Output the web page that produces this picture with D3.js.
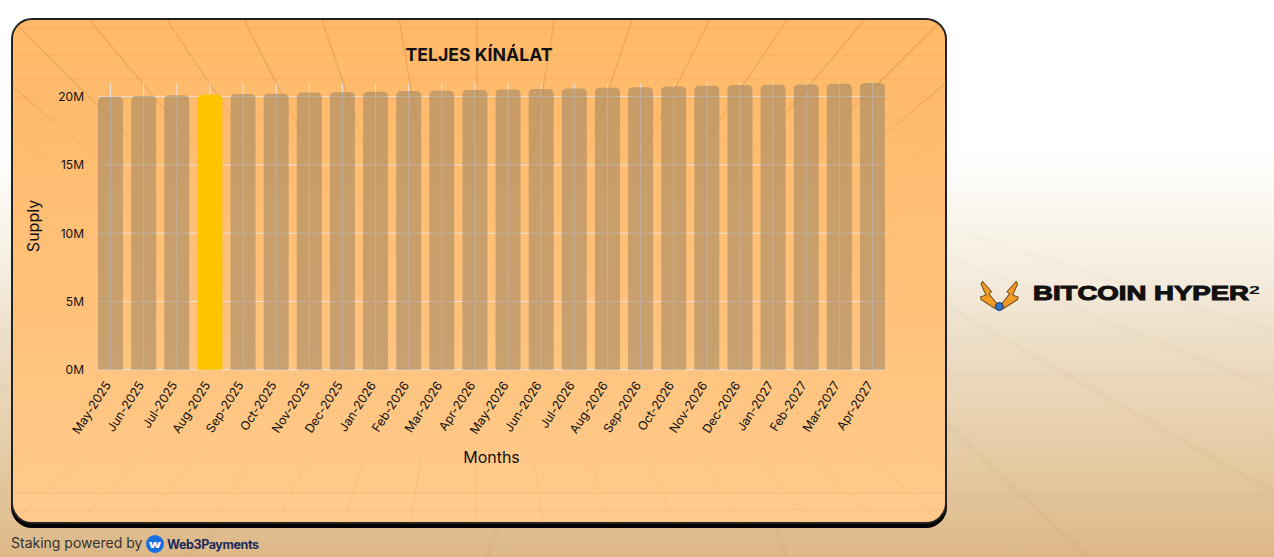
<!DOCTYPE html>
<html><head><meta charset="utf-8">
<script src="https://cdn.jsdelivr.net/npm/d3@7"></script>
<style>
html,body{margin:0;padding:0;width:1274px;height:557px;overflow:hidden;background:#fff}
svg{display:block;font-family:Inter,"Noto Sans",sans-serif}
</style></head><body>
<svg id="c" width="1274" height="557"></svg>
<script>
const months=["May-2025","Jun-2025","Jul-2025","Aug-2025","Sep-2025","Oct-2025","Nov-2025","Dec-2025","Jan-2026","Feb-2026","Mar-2026","Apr-2026","May-2026","Jun-2026","Jul-2026","Aug-2026","Sep-2026","Oct-2026","Nov-2026","Dec-2026","Jan-2027","Feb-2027","Mar-2027","Apr-2027"];
const supply=[20.0,20.05,20.1,20.15,20.2,20.22,20.3,20.33,20.37,20.42,20.44,20.49,20.52,20.57,20.6,20.66,20.7,20.74,20.8,20.85,20.87,20.9,20.95,21.0];
const yTicks=[0,5,10,15,20];
const highlightMonth="Aug-2025";
const titleText="TELJES KÍNÁLAT", yTitle="Supply", xTitle="Months";

const svg=d3.select("#c");
const defs=svg.append("defs");
function grad(id,stops){const g=defs.append("linearGradient").attr("id",id).attr("x1",0).attr("x2",0).attr("y1",0).attr("y2",1);
  stops.forEach(s=>g.append("stop").attr("offset",s[0]).attr("stop-color",s[1]));}
grad("page",[[0,"#ffffff"],[0.27,"#ffffff"],[0.36,"#fbf8f1"],[0.5,"#f5ecde"],[0.59,"#eee0cb"],[0.81,"#e6cca6"],[1,"#ddb887"]]);
grad("panel",[[0,"#ffb968"],[0.5,"#ffc078"],[1,"#ffcb8c"]]);
grad("fadeTop",[[0,"#fff"],[0.45,"#fff"],[1,"#000"]]);
grad("fadeBot",[[0,"#000"],[0.55,"#fff"],[1,"#fff"]]);
grad("fadePage",[[0,"#000"],[0.45,"#888"],[1,"#fff"]]);
function mask(id,gid,y,h){defs.append("mask").attr("id",id).attr("maskUnits","userSpaceOnUse").attr("x",0).attr("y",0).attr("width",1274).attr("height",557)
  .append("rect").attr("x",0).attr("y",y).attr("width",1274).attr("height",h).attr("fill",`url(#${gid})`);}
mask("mTop","fadeTop",19,150);
mask("mBot","fadeBot",420,110);
mask("mPage","fadePage",150,407);
defs.append("filter").attr("id","soft").attr("x","-5%").attr("y","-5%").attr("width","110%").attr("height","110%")
  .append("feGaussianBlur").attr("stdDeviation",1);
defs.append("clipPath").attr("id","pc").append("rect").attr("x",12).attr("y",19).attr("width",934).attr("height",505).attr("rx",20);

// page background
svg.append("rect").attr("width",1274).attr("height",557).attr("fill","url(#page)");
const bgDeco=svg.append("g").attr("mask","url(#mPage)").attr("stroke","#a8763a").attr("fill","none").attr("filter","url(#soft)").attr("stroke-width",3);
[179,203,238,375,497].forEach(yy=>bgDeco.append("line").attr("x1",946).attr("x2",1274).attr("y1",yy).attr("y2",yy).attr("stroke-opacity",.07));
[-1350,-1050,-750,-450,-150,150,450,750,1050,1350].forEach(o=>
  bgDeco.append("line").attr("x1",637).attr("y1",130).attr("x2",637+o).attr("y2",557).attr("stroke-opacity",.09));

// panel
svg.append("rect").attr("x",11).attr("y",22).attr("width",936).attr("height",506).attr("rx",21).attr("fill","#000");
svg.append("rect").attr("x",12).attr("y",19).attr("width",934).attr("height",504).attr("rx",20).attr("fill","url(#panel)").attr("stroke","#222").attr("stroke-width",2);

// panel perspective decoration
const clip=svg.append("g").attr("clip-path","url(#pc)");
const dTop=clip.append("g").attr("mask","url(#mTop)").attr("stroke","#b97a30").attr("fill","none");
[28,55,79,98,118].forEach(yy=>dTop.append("line").attr("x1",12).attr("x2",946).attr("y1",yy).attr("y2",yy).attr("stroke-opacity",.16));
d3.range(-10,11).forEach(k=>{
  const x0=477+k*77.5;
  dTop.append("line").attr("x1",x0).attr("y1",20).attr("x2",477).attr("y2",482).attr("stroke-opacity",.3).attr("stroke-width",1.2);
});
const dBot=clip.append("g").attr("mask","url(#mBot)").attr("stroke","#c98a3c").attr("fill","none");
[493,510].forEach(yy=>dBot.append("line").attr("x1",12).attr("x2",946).attr("y1",yy).attr("y2",yy).attr("stroke-opacity",.14));
d3.range(-10,11).forEach(k=>{
  const x0=477+k*66.5;
  dBot.append("line").attr("x1",x0).attr("y1",523).attr("x2",477).attr("y2",97).attr("stroke-opacity",.15);
});

// chart
const x=d3.scaleBand().domain(months).range([98,885]).paddingInner(0.245).paddingOuter(0);
const y=d3.scaleLinear().domain([0,20]).range([369.7,96.7]);
const g=svg.append("g");

// grid (beneath the bars)
const gridColor="rgba(232,232,240,0.85)";
g.selectAll("line.h").data(yTicks).join("line").attr("class","h")
  .attr("x1",x.range()[0]).attr("x2",x.range()[1])
  .attr("y1",d=>y(d)).attr("y2",d=>y(d)).attr("stroke",gridColor).attr("stroke-width",1);
g.selectAll("line.v").data(months).join("line").attr("class","v")
  .attr("x1",m=>x(m)+x.bandwidth()/2).attr("x2",m=>x(m)+x.bandwidth()/2)
  .attr("y1",y(21)).attr("y2",y(0)).attr("stroke",gridColor).attr("stroke-width",1);

const barPath=d=>{
  const x0=x(d.m),w=x.bandwidth(),t=y(d.v),b=y(0),r=5;
  return `M${x0},${b}V${t+r}Q${x0},${t} ${x0+r},${t}H${x0+w-r}Q${x0+w},${t} ${x0+w},${t+r}V${b}Z`;
};
const data=months.map((m,i)=>({m,v:supply[i]}));
g.selectAll("path.bar").data(data).join("path").attr("class","bar").attr("d",barPath)
  .attr("fill",d=>d.m===highlightMonth?"#ffc400":"rgba(145,125,95,0.5)");

// axes
const ay=g.append("g").attr("transform","translate(84,0)").call(d3.axisLeft(y).tickValues(yTicks).tickSize(0).tickPadding(0).tickFormat(d=>d+"M"));
ay.select(".domain").remove();
ay.selectAll("text").attr("font-family","Inter").attr("font-size",12).attr("fill","#111");
const ax=g.append("g").attr("transform","translate(0,370)").call(d3.axisBottom(x).tickSize(0).tickPadding(0));
ax.select(".domain").remove();
ax.selectAll("text").attr("font-family","Inter").attr("font-size",12.3).attr("fill","#111")
  .attr("text-anchor","end").attr("dy",0).attr("y",0)
  .attr("transform","translate(1,15) rotate(-57)");

// titles
svg.append("text").attr("x",479).attr("y",61).attr("text-anchor","middle").attr("font-size",17.7).attr("font-weight",700).attr("fill","#111").text(titleText);
svg.append("text").attr("transform","translate(38.5,226) rotate(-90)").attr("text-anchor","middle").attr("font-size",16).attr("fill","#111").text(yTitle);
svg.append("text").attr("x",491.5).attr("y",463).attr("text-anchor","middle").attr("font-size",16).attr("fill","#111").text(xTitle);

// footer
svg.append("text").attr("x",11).attr("y",548).attr("font-size",14).attr("fill","#333").text("Staking powered by");
svg.append("circle").attr("cx",155).attr("cy",544).attr("r",9).attr("fill","#1a6fe0");
svg.append("text").attr("x",155).attr("y",547.5).attr("text-anchor","middle").attr("font-size",10).attr("font-weight",800).attr("fill","#fff").attr("textLength",12).attr("lengthAdjust","spacingAndGlyphs").text("w");
svg.append("text").attr("x",167).attr("y",549).attr("font-size",12.5).attr("font-weight",700).attr("fill","#1b2a5c").attr("textLength",92).text("Web3Payments");

// logo
const logo=svg.append("g");
const wing="M982.5,281.5 L991.5,291.5 L989,293.8 L997,304 L995,308.5 L981,299.5 L980.5,297 L986,295 L981,284 Z";
[null,"translate(1998.6,0) scale(-1,1)"].forEach(t=>logo.append("path").attr("d",wing).attr("transform",t)
  .attr("fill","#f39a22").attr("stroke","#7a5426").attr("stroke-width",1.1).attr("stroke-linejoin","round"));
logo.append("circle").attr("cx",999.3).attr("cy",306.5).attr("r",4).attr("fill","#2f74c8").attr("stroke","#1d3557");
logo.append("text").attr("x",1033).attr("y",300).attr("font-family","'Liberation Sans'").attr("font-size",21).attr("font-weight",700).attr("fill","#111").attr("stroke","#111").attr("stroke-width",1.1)
  .attr("textLength",216).attr("lengthAdjust","spacingAndGlyphs").text("BITCOIN HYPER");
logo.append("text").attr("x",1249).attr("y",294).attr("font-family","'Liberation Sans'").attr("font-size",11).attr("font-weight",700).attr("fill","#111").attr("textLength",11).attr("lengthAdjust","spacingAndGlyphs").text("2");
</script>
</body></html>
